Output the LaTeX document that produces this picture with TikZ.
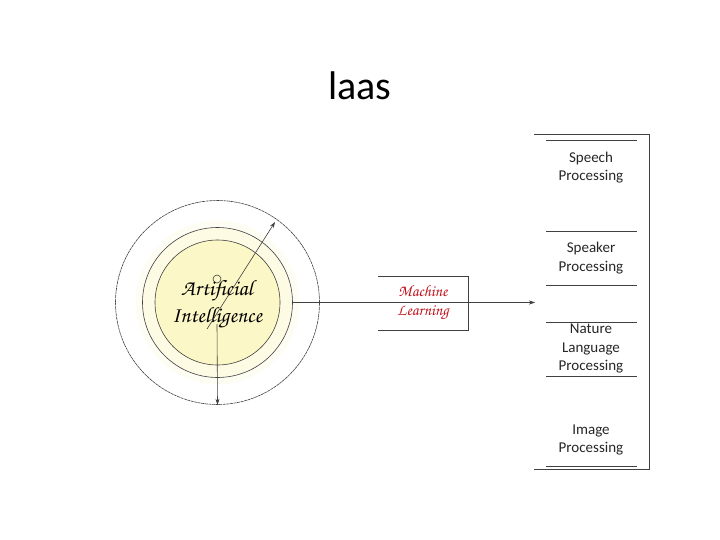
\documentclass[tikz,border=0pt]{standalone}
\usepackage{fontspec}
\setmainfont{Carlito}
\newfontfamily\chorus{texgyrechorus-mediumitalic.otf}
\usetikzlibrary{arrows.meta}
\definecolor{innerY}{HTML}{FBF7C6}
\definecolor{ringY}{HTML}{FDFBE4}
\definecolor{glowY}{HTML}{FEFDF4}
\definecolor{mlred}{HTML}{C0101A}
\definecolor{ln}{HTML}{404040}
\tikzset{
  thin line/.style={draw=ln, line width=0.6pt},
  arr/.style={thin line, -{Stealth[length=6pt,width=4pt]}},
  proc/.style={font=\fontsize{15}{18.5}\selectfont, align=center, text=black!85},
}
\begin{document}
\begin{tikzpicture}[x=1pt,y=-1pt]
\useasboundingbox (0,0) rectangle (720,540);
% title
\node[font=\fontsize{40}{44}\selectfont] (title) at (360,86) {laas};
% circles
\coordinate (c) at (217.5,302.5);
\fill[glowY] (c) circle (82);
\node[circle, thin line, dash pattern=on 3pt off 0.6pt, minimum size=204pt, inner sep=0] (outer) at (c) {};
\node[circle, thin line, fill=ringY, minimum size=150pt, inner sep=0] (middle) at (c) {};
\node[circle, thin line, fill=innerY, minimum size=125pt, inner sep=0] (inner) at (c) {};
\node[circle, thin line, minimum size=8pt, inner sep=0] (small) at (217,279) {};
\node[font=\chorus\fontsize{22}{27}\selectfont, align=center] (ai) at (217,304) {Artificial\\Intelligence};
\coordinate (dstart) at (207,329);
\coordinate (dend) at (275,222);
\draw[arr] (dstart) -- (dend);
\coordinate (vstart) at (217,324);
\draw[arr] (vstart) -- (outer.south);
% machine learning box
\coordinate (mlTL) at (378,276);
\coordinate (mlTR) at (468,276);
\coordinate (mlBR) at (468,330);
\coordinate (mlBL) at (378,330);
\draw[thin line] (mlTL) -- (mlTR) -- (mlBR) -- (mlBL);
\node[font=\chorus\fontsize{16}{19}\selectfont, text=mlred, align=center] (ml) at (423,303) {Machine\\Learning};
\coordinate (arrend) at (535,302.5);
\draw[arr] (middle.east) -- (arrend);
% right column frame
\coordinate (fTL) at (534,134);
\coordinate (fTR) at (649,134);
\coordinate (fBR) at (649,469.5);
\coordinate (fBL) at (534,469.5);
\draw[thin line] (fTL) -- (fTR) -- (fBR) -- (fBL);
\foreach \yy in {140,231,285,322,376,466}{
  \draw[thin line] (546,\yy) -- (637,\yy);
}
\node[proc] (speech) at (591,167.5) {Speech\\Processing};
\node[proc] (speaker) at (591,258) {Speaker\\Processing};
\node[proc] (nlp) at (591,348.5) {Nature\\Language\\Processing};
\node[proc] (image) at (591,440) {Image\\Processing};
\end{tikzpicture}
\end{document}
